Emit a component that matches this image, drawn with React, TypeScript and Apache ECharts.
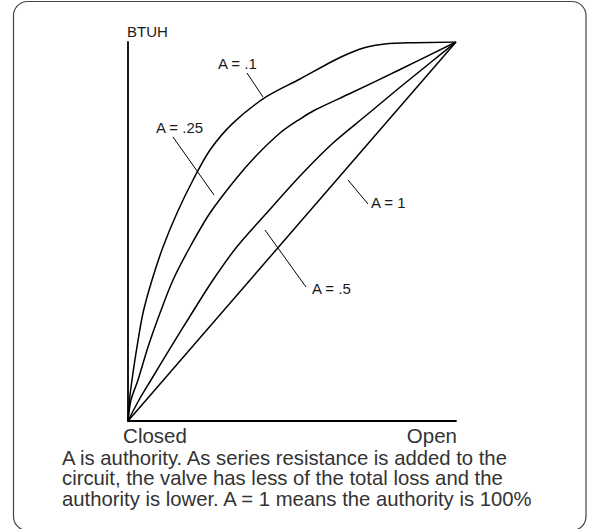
import React, { useEffect, useRef } from "react";
import * as echarts from "echarts";

// valve position (0 = Closed, 100 = Open) vs heat output (% BTUH)
const curveA01: [number, number][] = [
  [0, 0], [0.46, 5.54], [1.22, 10.82], [2.74, 19.53], [4.57, 28.5], [7.32, 37.2],
  [10.67, 45.9], [14.94, 54.88], [19.82, 63.59], [25.0, 71.5], [32.0, 78.6], [42.07, 85.49],
  [52.44, 90.24], [62.5, 94.99], [67.68, 97.1], [72.87, 98.68], [78.35, 99.47], [85.98, 99.79],
  [100, 100],
];
const curveA025: [number, number][] = [
  [0, 0], [0.91, 5.54], [3.05, 10.82], [6.1, 19.53], [9.76, 28.5], [13.72, 37.2],
  [18.9, 45.91], [25.0, 54.88], [32.62, 63.59], [38.72, 69.66], [46.34, 75.99], [52.44, 79.68],
  [57.01, 82.06], [67.68, 86.41], [82.93, 92.74], [100, 100],
];
const curveA05: [number, number][] = [
  [0, 0], [3.35, 5.54], [7.01, 10.82], [13.11, 19.53], [19.51, 28.5], [25.91, 37.2],
  [33.14, 45.91], [42.29, 54.88], [52.44, 64.64], [62.5, 73.35], [72.77, 80.74],
  [83.02, 88.13], [92.07, 94.46], [100, 100],
];
const curveA1: [number, number][] = [[0, 0], [100, 100]];

const seriesNames = ["A = .1", "A = .25", "A = .5", "A = 1"];
const xLabels = ["Closed", "Open"];
const yLabel = "BTUH";
const caption = [
  "A is authority. As series resistance is added to the",
  "circuit, the valve has less of the total loss and the",
  "authority is lower. A = 1 means the authority is 100%",
];

const FONT = "'Liberation Sans', Arial, Helvetica, sans-serif";
const INK = "#1a1a1a";

export default function App() {
  const ref = useRef<HTMLDivElement>(null);
  useEffect(() => {
    document.body.style.margin = "0";
    const chart = echarts.init(ref.current!, null, { renderer: "svg" });
    const curves = [curveA01, curveA025, curveA05, curveA1];
    const txt = (text: string, x: number, y: number, size: number, align = "left", fill = INK) => ({
      type: "text",
      style: { text, x, y, font: `${size}px ${FONT}`, fill, align, verticalAlign: "middle" },
    });
    const ln = (x1: number, y1: number, x2: number, y2: number) => ({
      type: "line",
      shape: { x1, y1, x2, y2 },
      style: { stroke: "#000", lineWidth: 1 },
    });
    chart.setOption({
      animation: false,
      grid: { left: 128, top: 42, width: 328, height: 379 },
      xAxis: {
        type: "value", min: 0, max: 100,
        axisLine: { show: true, lineStyle: { color: "#000", width: 1.8 } },
        axisTick: { show: false }, axisLabel: { show: false }, splitLine: { show: false },
      },
      yAxis: {
        type: "value", min: 0, max: 100,
        axisLine: { show: true, lineStyle: { color: "#000", width: 1.8 } },
        axisTick: { show: false }, axisLabel: { show: false }, splitLine: { show: false },
      },
      series: curves.map((d, i) => ({
        name: seriesNames[i],
        type: "line",
        data: d,
        symbol: "none",
        smooth: 0.3,
        lineStyle: { color: "#000", width: 1.5 },
      })),
      graphic: [
        {
          type: "rect",
          shape: { x: 13.5, y: 1.5, width: 572.5, height: 529, r: 14 },
          style: { fill: "none", stroke: "#444", lineWidth: 1.2 },
        },
        txt(yLabel, 127, 31, 15),
        txt(xLabels[0], 155, 435, 20.5, "center", "#333"),
        txt(xLabels[1], 457, 435, 20.5, "right", "#333"),
        txt(caption[0], 62, 457.5, 20.3, "left", "#333"),
        txt(caption[1], 62, 478, 20.3, "left", "#333"),
        txt(caption[2], 62, 498.5, 20.3, "left", "#333"),
        txt(seriesNames[0], 218, 63, 15),
        ln(247, 73, 263, 97),
        txt(seriesNames[1], 156, 127, 15),
        ln(173, 137, 214, 195),
        txt(seriesNames[3], 371, 202, 15),
        ln(348, 180, 368, 204),
        txt(seriesNames[2], 312, 288, 15),
        ln(265, 230, 306, 287),
      ],
    });
    return () => chart.dispose();
  }, []);
  return <div ref={ref} style={{ width: 592, height: 529 }} />;
}
